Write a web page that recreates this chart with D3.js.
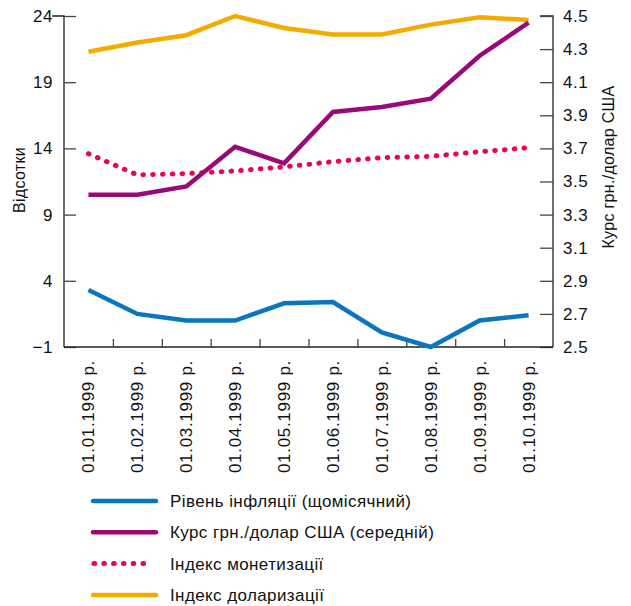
<!DOCTYPE html>
<html>
<head>
<meta charset="utf-8">
<script src="https://cdn.jsdelivr.net/npm/d3@7"></script>
<style>
  body { margin: 0; background: #fff; }
  svg { display: block; font-family: Arial, "Liberation Sans", Helvetica, sans-serif; }
</style>
</head>
<body>
<svg id="chart" width="631" height="606"></svg>
<script>
// Monthly dates (1999)
const dates = ["01.01.1999 р.", "01.02.1999 р.", "01.03.1999 р.", "01.04.1999 р.", "01.05.1999 р.",
               "01.06.1999 р.", "01.07.1999 р.", "01.08.1999 р.", "01.09.1999 р.", "01.10.1999 р."];

// Left axis (percent)
const inflation    = [3.3, 1.5, 1.0, 1.0, 2.3, 2.4, 0.1, -1.0, 1.0, 1.4];
const monetization = [13.6, 12.0, 12.1, 12.3, 12.6, 13.0, 13.3, 13.4, 13.75, 14.05];
const dollarization= [21.3, 22.0, 22.55, 24.0, 23.1, 22.6, 22.6, 23.35, 23.9, 23.7];

// Right axis (UAH per USD)
const exchangeRate = [3.42, 3.42, 3.47, 3.71, 3.61, 3.92, 3.95, 4.00, 4.26, 4.46];

const leftTicks  = [-1, 4, 9, 14, 19, 24];
const rightTicks = [2.5, 2.7, 2.9, 3.1, 3.3, 3.5, 3.7, 3.9, 4.1, 4.3, 4.5];

const legendLabels = ["Рівень інфляції (щомісячний)", "Курс грн./долар США (середній)",
                      "Індекс монетизації", "Індекс доларизації"];

const colors = { blue: "#0a76bd", purple: "#990a78", pink: "#e5084f", orange: "#f4ab00" };

const svg = d3.select("#chart");
const L = 64, R = 553, T = 16, B = 347;

const x = d3.scaleBand().domain(dates).range([L, R]).paddingInner(0).paddingOuter(0);
const yL = d3.scaleLinear().domain([-1, 24]).range([B, T]);
const yR = d3.scaleLinear().domain([2.5, 4.5]).range([B, T]);
const cx = d => x(d) + x.bandwidth() / 2;

const axisColor = "#222";
const fontSize = 17;

// Left axis
const gL = svg.append("g").attr("transform", `translate(${L},0)`)
  .call(d3.axisLeft(yL).tickValues(leftTicks).tickSize(-12).tickPadding(11)
        .tickFormat(d => d < 0 ? "\u2212" + Math.abs(d) : d));
// Right axis
const gR = svg.append("g").attr("transform", `translate(${R},0)`)
  .call(d3.axisRight(yR).tickValues(rightTicks).tickSize(-13).tickPadding(10)
        .tickFormat(d3.format(".1f")));
// Bottom axis: ticks at band boundaries
const bounds = dates.slice(1).map(d => x(d));
const gB = svg.append("g").attr("transform", `translate(0,${B})`)
  .call(d3.axisBottom(d3.scaleLinear().domain([L, R]).range([L, R]))
        .tickValues(bounds).tickSize(-8).tickFormat(""));

[gL, gR, gB].forEach(g => {
  g.select(".domain").attr("stroke", axisColor).attr("stroke-width", 1.3);
  g.selectAll(".tick line").attr("stroke", "#444").attr("stroke-width", 1.3);
  g.selectAll("text").attr("font-size", fontSize).attr("fill", "#111")
    .attr("letter-spacing", 0.5)
    .attr("font-family", "Arial, 'Liberation Sans', Helvetica, sans-serif");
});
gB.select(".domain").attr("d", `M${L},0H${R}`);
gL.select(".domain").attr("d", `M-12,${T}H0V${B}H0`);
gR.select(".domain").attr("d", `M-13,${T}H0V${B}H0`);

// Rotated date labels
svg.append("g").selectAll("text").data(dates).join("text")
  .attr("transform", d => `translate(${cx(d) + 6},360) rotate(-90)`)
  .attr("text-anchor", "end")
  .attr("font-size", fontSize).attr("fill", "#111")
  .attr("letter-spacing", 0.7)
  .text(d => d);

// Axis titles
svg.append("text").attr("transform", "translate(25,180) rotate(-90)")
  .attr("text-anchor", "middle").attr("font-size", 16).attr("fill", "#111")
  .attr("letter-spacing", 0.3).text("Відсотки");
svg.append("text").attr("transform", "translate(614,167) rotate(-90)")
  .attr("text-anchor", "middle").attr("font-size", 16).attr("fill", "#111")
  .attr("letter-spacing", 0.3).text("Курс грн./долар США");

// Series lines
const lineL = d3.line().x((d, i) => cx(dates[i])).y(d => yL(d));
const lineR = d3.line().x((d, i) => cx(dates[i])).y(d => yR(d));

svg.append("path").datum(dollarization).attr("d", lineL)
  .attr("fill", "none").attr("stroke", colors.orange).attr("stroke-width", 4.5);
svg.append("path").datum(monetization).attr("d", lineL)
  .attr("fill", "none").attr("stroke", colors.pink).attr("stroke-width", 5)
  .attr("stroke-linecap", "round").attr("stroke-dasharray", "0.6 9.2");
svg.append("path").datum(exchangeRate).attr("d", lineR)
  .attr("fill", "none").attr("stroke", colors.purple).attr("stroke-width", 4.5);
svg.append("path").datum(inflation).attr("d", lineL)
  .attr("fill", "none").attr("stroke", colors.blue).attr("stroke-width", 4.5);

// Legend
const legendStyles = [
  { color: colors.blue, dash: null },
  { color: colors.purple, dash: null },
  { color: colors.pink, dash: "0.6 9.2" },
  { color: colors.orange, dash: null }
];
const lg = svg.append("g");
legendLabels.forEach((lab, i) => {
  const yy = 501 + i * 31.3;
  const st = legendStyles[i];
  const ln = lg.append("line").attr("x1", 93).attr("x2", 156).attr("y1", yy).attr("y2", yy)
    .attr("stroke", st.color).attr("stroke-width", st.dash ? 5 : 4.5).attr("stroke-linecap", "round");
  if (st.dash) ln.attr("stroke-dasharray", st.dash).attr("x1", 94).attr("x2", 149);
  lg.append("text").attr("x", 170).attr("y", yy).attr("dy", "0.36em")
    .attr("font-size", fontSize).attr("fill", "#111")
    .attr("letter-spacing", 0.4).text(lab);
});
</script>
</body>
</html>
